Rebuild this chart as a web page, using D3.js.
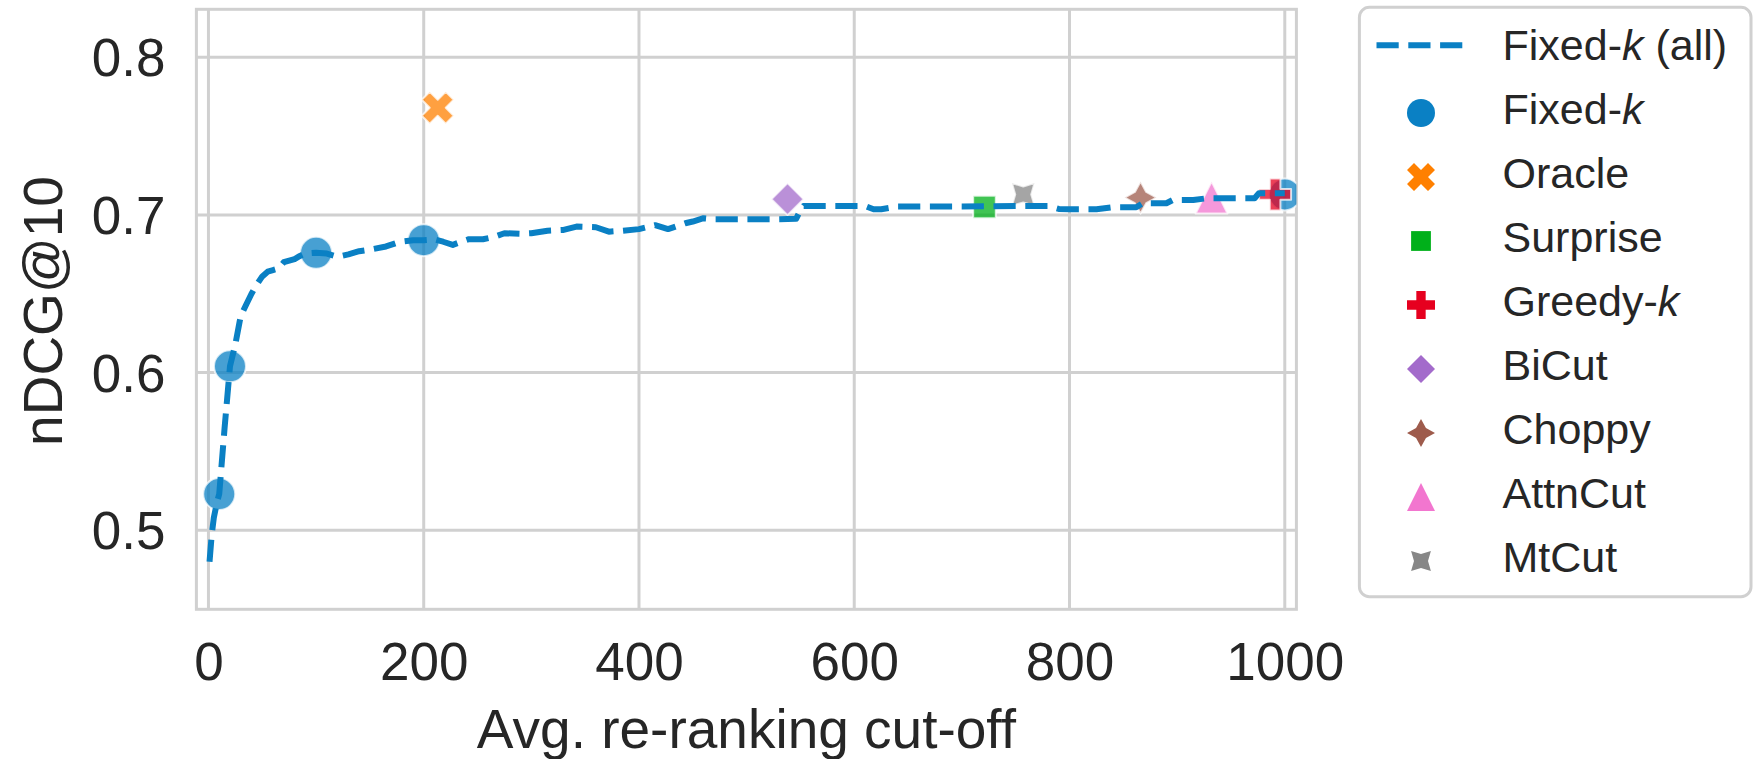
<!DOCTYPE html>
<html>
<head>
<meta charset="utf-8">
<script src="https://cdn.jsdelivr.net/npm/d3@7"></script>
<style>
  html, body { margin: 0; padding: 0; background: #fff; }
  svg { display: block; }
  text { font-family: "Liberation Sans", Arial, Helvetica, sans-serif; fill: #262626; }
</style>
</head>
<body>
<svg id="chart" width="1754" height="759"></svg>
<script>
// ---------------- data ----------------
const xTicks = [0, 200, 400, 600, 800, 1000];
const yTicks = [0.5, 0.6, 0.7, 0.8];

// Fixed-k (all): avg. cut-off vs nDCG@10
const lineCutoff = [1, 3, 5, 8, 10, 15, 20, 25, 30, 35, 40, 45, 50, 55, 60, 65, 70, 75, 80, 85, 90, 100,
  110, 120, 130, 140, 150, 165, 178, 190, 200, 210, 218, 227, 235, 242, 255, 265, 275, 290, 300, 315,
  330, 342, 360, 372, 385, 400, 415, 427, 443, 450, 460, 470, 500, 530, 546, 550, 553, 580, 610, 618,
  625, 640, 700, 760, 780, 790, 800, 810, 825, 840, 862, 868, 890, 896, 915, 928, 950, 972, 976, 1000];
const lineNdcg = [0.480, 0.497, 0.508, 0.518, 0.523, 0.565, 0.604, 0.618, 0.636, 0.643, 0.650, 0.656,
  0.661, 0.664, 0.665, 0.666, 0.670, 0.671, 0.672, 0.674, 0.6755, 0.676,
  0.6755, 0.6735, 0.675, 0.677, 0.678, 0.680, 0.683, 0.684, 0.684, 0.6845, 0.683, 0.681, 0.683, 0.6846,
  0.6846, 0.686, 0.6884, 0.688, 0.6884, 0.690, 0.6905, 0.6926, 0.6922, 0.6894, 0.690, 0.691, 0.6935,
  0.691, 0.6947, 0.6958, 0.6979, 0.6973, 0.6973, 0.6973, 0.6975, 0.703, 0.7057, 0.7057, 0.7057, 0.7036,
  0.7036, 0.7053, 0.7053, 0.7057, 0.7057, 0.7038, 0.7036, 0.7036, 0.7036, 0.7049, 0.7049, 0.7074, 0.7074,
  0.7095, 0.7095, 0.7106, 0.7106, 0.7106, 0.7138, 0.7138];

// Fixed-k points
const fixedKCutoff = [10, 20, 100, 200, 1000];
const fixedKNdcg = [0.523, 0.604, 0.676, 0.684, 0.713];

// Other methods (one point each)
const methodNames = ["Oracle", "Surprise", "Greedy-k", "BiCut", "Choppy", "AttnCut", "MtCut"];
const methodCutoff = [213, 721, 991, 538, 866, 932, 757];
const methodNdcg = [0.768, 0.705, 0.713, 0.710, 0.711, 0.711, 0.713];

// legend entries (label parts: [normal, italic, normal])
const legendLabels = [
  ["Fixed-", "k", " (all)"], ["Fixed-", "k", ""], ["Oracle", "", ""], ["Surprise", "", ""],
  ["Greedy-", "k", ""], ["BiCut", "", ""], ["Choppy", "", ""], ["AttnCut", "", ""], ["MtCut", "", ""]
];

// ---------------- styles ----------------
const blue = "#0a80c4";
const methodColors = ["#ff8000", "#00b01a", "#e6001f", "#a36bcb", "#9e5b4c", "#f276cf", "#878787"];
const methodShapes = ["X", "square45", "P", "diamond", "star4", "triUp", "star4r"];
const legendColors = [blue, blue].concat(methodColors);
const legendShapes = ["line", "circle"].concat(methodShapes);

// ---------------- layout ----------------
const svg = d3.select("#chart");
const L = 196.4, R = 1296.4, T = 9.3, B = 609.3;
const x = d3.scaleLinear().domain([-11.2, 1010.8]).range([L, R]);
const y = d3.scaleLinear().domain([0.4499, 0.8304]).range([B, T]);
const gridColor = "#d0d0d0";

function poly(n, r, startDeg) {
  const pts = [];
  for (let i = 0; i < n; i++) {
    const a = (startDeg + 360 / n * i) * Math.PI / 180;
    pts.push([r * Math.cos(a), -r * Math.sin(a)]);
  }
  return pts;
}
function star(n, r, inner, startDeg) {
  const pts = [];
  for (let i = 0; i < 2 * n; i++) {
    const rr = i % 2 === 0 ? r : r * inner;
    const a = (startDeg + 180 / n * i) * Math.PI / 180;
    pts.push([rr * Math.cos(a), -rr * Math.sin(a)]);
  }
  return pts;
}
function toPath(pts) { return "M" + pts.map(p => p[0].toFixed(2) + "," + p[1].toFixed(2)).join("L") + "Z"; }
function shapePath(type, S) {
  const h = S / 2;
  switch (type) {
    case "circle": return `M${h},0A${h},${h} 0 1,1 ${-h},0A${h},${h} 0 1,1 ${h},0Z`;
    case "X": return toPath([[-1, -2], [0, -1], [1, -2], [2, -1], [1, 0], [2, 1], [1, 2], [0, 1], [-1, 2], [-2, 1], [-1, 0], [-2, -1]].map(p => [p[0] / 4 * S, p[1] / 4 * S]));
    case "P": return toPath([[-1, -3], [1, -3], [1, -1], [3, -1], [3, 1], [1, 1], [1, 3], [-1, 3], [-1, 1], [-3, 1], [-3, -1], [-1, -1]].map(p => [p[0] / 6 * S, p[1] / 6 * S]));
    case "square45": return toPath(poly(4, h, 135));
    case "diamond": return toPath(poly(4, h, 90));
    case "star4": return toPath(star(4, h, 0.5, 90));
    case "star4r": return toPath(star(4, h, 0.5, 135));
    case "triUp": return toPath([[0, -h], [-h, h], [h, h]]);
  }
}

// clip
svg.append("defs").append("clipPath").attr("id", "plotclip")
  .append("rect").attr("x", L).attr("y", T).attr("width", R - L).attr("height", B - T);

// grid
const grid = svg.append("g");
grid.selectAll("line.vx").data(xTicks).enter().append("line")
  .attr("x1", d => x(d)).attr("x2", d => x(d)).attr("y1", T).attr("y2", B)
  .attr("stroke", gridColor).attr("stroke-width", 3);
grid.selectAll("line.hy").data(yTicks).enter().append("line")
  .attr("y1", d => y(d)).attr("y2", d => y(d)).attr("x1", L).attr("x2", R)
  .attr("stroke", gridColor).attr("stroke-width", 3);

// frame
svg.append("rect").attr("x", L).attr("y", T).attr("width", R - L).attr("height", B - T)
  .attr("fill", "none").attr("stroke", gridColor).attr("stroke-width", 3);

// axes
const xAxis = svg.append("g").attr("transform", `translate(0,${B})`)
  .call(d3.axisBottom(x).tickValues(xTicks).tickSize(0).tickPadding(33).tickFormat(d3.format("d")));
const yAxis = svg.append("g").attr("transform", `translate(${L},0)`)
  .call(d3.axisLeft(y).tickValues(yTicks).tickSize(0).tickPadding(31).tickFormat(d3.format(".1f")));
[xAxis, yAxis].forEach(a => {
  a.select(".domain").remove();
  a.selectAll("text").style("font-size", "53px").attr("fill", "#262626")
    .style("font-family", '"Liberation Sans", Arial, Helvetica, sans-serif');
});
yAxis.selectAll("text").attr("dy", "0.35em");

// axis labels
svg.append("text").attr("x", (L + R) / 2).attr("y", 748).attr("text-anchor", "middle")
  .style("font-size", "55px").text("Avg. re-ranking cut-off");
svg.append("text").attr("transform", "translate(62,311) rotate(-90)").attr("text-anchor", "middle")
  .style("font-size", "55px").text("nDCG@10");

// plot content
const plot = svg.append("g").attr("clip-path", "url(#plotclip)");
const PS = 32; // marker size in plot
plot.selectAll("path.fk").data(fixedKCutoff.map((c, i) => [c, fixedKNdcg[i]])).enter().append("path")
  .attr("transform", d => `translate(${x(d[0])},${y(d[1])})`)
  .attr("d", shapePath("circle", PS))
  .attr("fill", blue).attr("fill-opacity", 0.75)
  .attr("stroke", "#fff").attr("stroke-opacity", 0.75).attr("stroke-width", 2);
plot.selectAll("path.m").data(methodNames.map((n, i) => i)).enter().append("path")
  .attr("transform", i => `translate(${x(methodCutoff[i])},${y(methodNdcg[i])})`)
  .attr("d", i => shapePath(methodShapes[i], PS))
  .attr("fill", i => methodColors[i]).attr("fill-opacity", 0.75)
  .attr("stroke", "#fff").attr("stroke-opacity", 0.75).attr("stroke-width", 2)
  .attr("stroke-linejoin", "round");

const line = d3.line().x(d => x(d[0])).y(d => y(d[1]));
plot.append("path").datum(lineCutoff.map((c, i) => [c, lineNdcg[i]]))
  .attr("d", line).attr("fill", "none").attr("stroke", blue).attr("stroke-width", 6)
  .attr("stroke-dasharray", "22.2,9.6").attr("stroke-linejoin", "round");

// legend
const LG = { x: 1359.4, y: 7.3, w: 391.6, h: 589.4 };
const lg = svg.append("g");
lg.append("rect").attr("x", LG.x).attr("y", LG.y).attr("width", LG.w).attr("height", LG.h)
  .attr("rx", 10).attr("ry", 10).attr("fill", "#fff").attr("stroke", gridColor).attr("stroke-width", 3);
const rowY = i => 59.5 + i * 64;
legendLabels.forEach((parts, i) => {
  const by = rowY(i);
  if (legendShapes[i] === "line") {
    lg.append("line").attr("x1", 1376.5).attr("x2", 1462.9).attr("y1", by - 14.3).attr("y2", by - 14.3)
      .attr("stroke", legendColors[i]).attr("stroke-width", 6).attr("stroke-dasharray", "22.2,9.6");
  } else {
    lg.append("path").attr("transform", `translate(1421,${by - 10.5})`)
      .attr("d", shapePath(legendShapes[i], 28)).attr("fill", legendColors[i]).attr("stroke-linejoin", "round");
  }
  const t = lg.append("text").attr("x", 1502.5).attr("y", by).style("font-size", "43px");
  t.append("tspan").text(parts[0]);
  if (parts[1]) t.append("tspan").style("font-style", "italic").text(parts[1]);
  if (parts[2]) t.append("tspan").text(parts[2]);
});
</script>
</body>
</html>
